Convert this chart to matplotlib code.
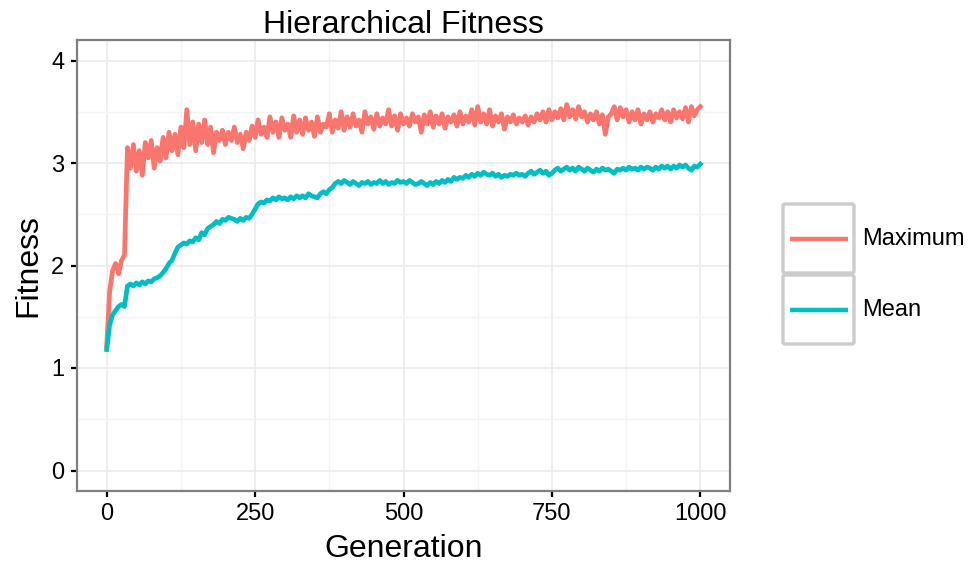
import matplotlib
matplotlib.use("Agg")
import matplotlib.pyplot as plt
from matplotlib.patches import FancyBboxPatch
from matplotlib.ticker import MultipleLocator

plt.rcParams["font.family"] = ["Liberation Sans", "DejaVu Sans"]

# generation every 5 steps
generations = list(range(0, 1001, 5))

maximum = [
    1.21, 1.75, 1.95, 2.02, 1.92, 2.05, 2.10, 3.15, 2.95, 3.18,
    2.92, 3.12, 2.88, 3.20, 3.05, 3.22, 2.95, 3.15, 3.02, 3.25,
    3.05, 3.30, 3.12, 3.28, 3.08, 3.35, 3.15, 3.52, 3.18, 3.40,
    3.12, 3.38, 3.20, 3.42, 3.18, 3.35, 3.10, 3.30, 3.22, 3.32,
    3.18, 3.30, 3.22, 3.35, 3.20, 3.28, 3.14, 3.30, 3.22, 3.36,
    3.25, 3.42, 3.28, 3.35, 3.25, 3.45, 3.30, 3.40, 3.25, 3.44,
    3.32, 3.38, 3.25, 3.46, 3.30, 3.42, 3.28, 3.44, 3.32, 3.40,
    3.26, 3.45, 3.30, 3.38, 3.35, 3.48, 3.30, 3.42, 3.34, 3.50,
    3.32, 3.45, 3.35, 3.48, 3.36, 3.42, 3.30, 3.50, 3.38, 3.45,
    3.33, 3.48, 3.36, 3.44, 3.38, 3.52, 3.36, 3.46, 3.32, 3.48,
    3.38, 3.44, 3.36, 3.48, 3.40, 3.45, 3.30, 3.47, 3.38, 3.50,
    3.35, 3.46, 3.38, 3.48, 3.34, 3.45, 3.40, 3.47, 3.36, 3.50,
    3.38, 3.46, 3.40, 3.52, 3.37, 3.55, 3.40, 3.48, 3.38, 3.52,
    3.36, 3.46, 3.40, 3.48, 3.33, 3.45, 3.40, 3.47, 3.38, 3.44,
    3.40, 3.46, 3.37, 3.45, 3.40, 3.48, 3.42, 3.50, 3.40, 3.52,
    3.42, 3.50, 3.44, 3.53, 3.42, 3.57, 3.45, 3.52, 3.43, 3.55,
    3.45, 3.50, 3.40, 3.48, 3.42, 3.50, 3.38, 3.47, 3.28, 3.45,
    3.48, 3.55, 3.42, 3.54, 3.45, 3.52, 3.40, 3.50, 3.42, 3.52,
    3.38, 3.48, 3.42, 3.50, 3.40, 3.48, 3.44, 3.52, 3.42, 3.50,
    3.40, 3.52, 3.44, 3.50, 3.43, 3.54, 3.40, 3.55, 3.46, 3.52,
    3.55,
]

mean = [
    1.18, 1.42, 1.52, 1.56, 1.60, 1.62, 1.60, 1.80, 1.82, 1.80,
    1.83, 1.81, 1.84, 1.82, 1.85, 1.84, 1.87, 1.88, 1.90, 1.93,
    1.97, 2.02, 2.05, 2.12, 2.18, 2.20, 2.22, 2.21, 2.24, 2.23,
    2.27, 2.25, 2.32, 2.30, 2.36, 2.38, 2.40, 2.43, 2.41, 2.45,
    2.44, 2.47, 2.46, 2.45, 2.43, 2.46, 2.44, 2.47, 2.46, 2.50,
    2.55, 2.60, 2.62, 2.61, 2.64, 2.63, 2.66, 2.64, 2.67, 2.65,
    2.66, 2.64, 2.67, 2.65, 2.68, 2.66, 2.68, 2.66, 2.70, 2.68,
    2.67, 2.66, 2.70, 2.72, 2.70, 2.74, 2.76, 2.80, 2.82, 2.80,
    2.83, 2.81, 2.79, 2.82, 2.80, 2.78, 2.81, 2.80, 2.82, 2.79,
    2.81, 2.80, 2.83, 2.80, 2.82, 2.79, 2.81, 2.80, 2.83, 2.81,
    2.82, 2.80, 2.83, 2.81, 2.79, 2.80, 2.82, 2.80, 2.78, 2.81,
    2.79, 2.82, 2.80, 2.83, 2.81, 2.84, 2.82, 2.86, 2.84, 2.86,
    2.85, 2.88, 2.86, 2.89, 2.87, 2.90, 2.88, 2.91, 2.89, 2.88,
    2.90, 2.87, 2.89, 2.86, 2.88, 2.87, 2.89, 2.88, 2.90, 2.88,
    2.89, 2.87, 2.90, 2.92, 2.89, 2.91, 2.93, 2.90, 2.92, 2.88,
    2.90, 2.93, 2.95, 2.92, 2.94, 2.96, 2.93, 2.95, 2.92, 2.96,
    2.94, 2.92, 2.95, 2.93, 2.91, 2.94, 2.92, 2.95, 2.93, 2.94,
    2.92, 2.90, 2.94, 2.93, 2.95, 2.93, 2.96, 2.94, 2.95, 2.93,
    2.96, 2.94, 2.96, 2.95, 2.93, 2.96, 2.94, 2.97, 2.95, 2.97,
    2.94, 2.97, 2.95, 2.98, 2.96, 2.98, 2.95, 2.93, 2.97, 2.96,
    2.99,
]

series_names = ["Maximum", "Mean"]
series_colors = ["#F8766D", "#00BFC4"]

W, H = 974, 563
fig = plt.figure(figsize=(W / 100, H / 100), dpi=100)
ax = fig.add_axes([77 / W, 72 / H, 653 / W, 451 / H])

for name, vals, col in zip(series_names, [maximum, mean], series_colors):
    ax.plot(generations, vals, color=col, lw=3.4, solid_joinstyle="round", label=name)

ax.set_xlim(-50, 1050)
ax.set_ylim(-0.2, 4.2)
ax.xaxis.set_major_locator(MultipleLocator(250))
ax.xaxis.set_minor_locator(MultipleLocator(125))
ax.yaxis.set_major_locator(MultipleLocator(1))
ax.yaxis.set_minor_locator(MultipleLocator(0.5))
ax.grid(which="major", color="#ebebeb", lw=1.2)
ax.grid(which="minor", color="#f4f4f4", lw=1.0)
ax.set_axisbelow(True)
for sp in ax.spines.values():
    sp.set_color("#7f7f7f")
    sp.set_linewidth(1.6)
ax.tick_params(which="major", length=4, width=1.6, color="black",
               labelsize=17, labelcolor="black", pad=5)
ax.tick_params(which="minor", length=0)

ax.set_title("Hierarchical Fitness", fontsize=23, pad=5)
ax.set_xlabel("Generation", fontsize=23, labelpad=6)
ax.set_ylabel("Fitness", fontsize=23, labelpad=6)

# ggplot-style legend with boxed keys, drawn in pixel space
lax = fig.add_axes([0, 0, 1, 1])
lax.set_xlim(0, W)
lax.set_ylim(H, 0)
lax.axis("off")
key_tops = [203, 274]
for top, name, col in zip(key_tops, series_names, series_colors):
    lax.add_patch(FancyBboxPatch((783, top + 1), 71, 69,
                                 boxstyle="round,pad=0,rounding_size=2",
                                 fc="white", ec="#cccccc", lw=2.4))
    yc = top + 36
    lax.plot([790, 848], [yc, yc], color=col, lw=3.2, solid_capstyle="butt")
    lax.text(862, yc, name, fontsize=17, va="center", ha="left")

fig.savefig("out.png", dpi=100)
